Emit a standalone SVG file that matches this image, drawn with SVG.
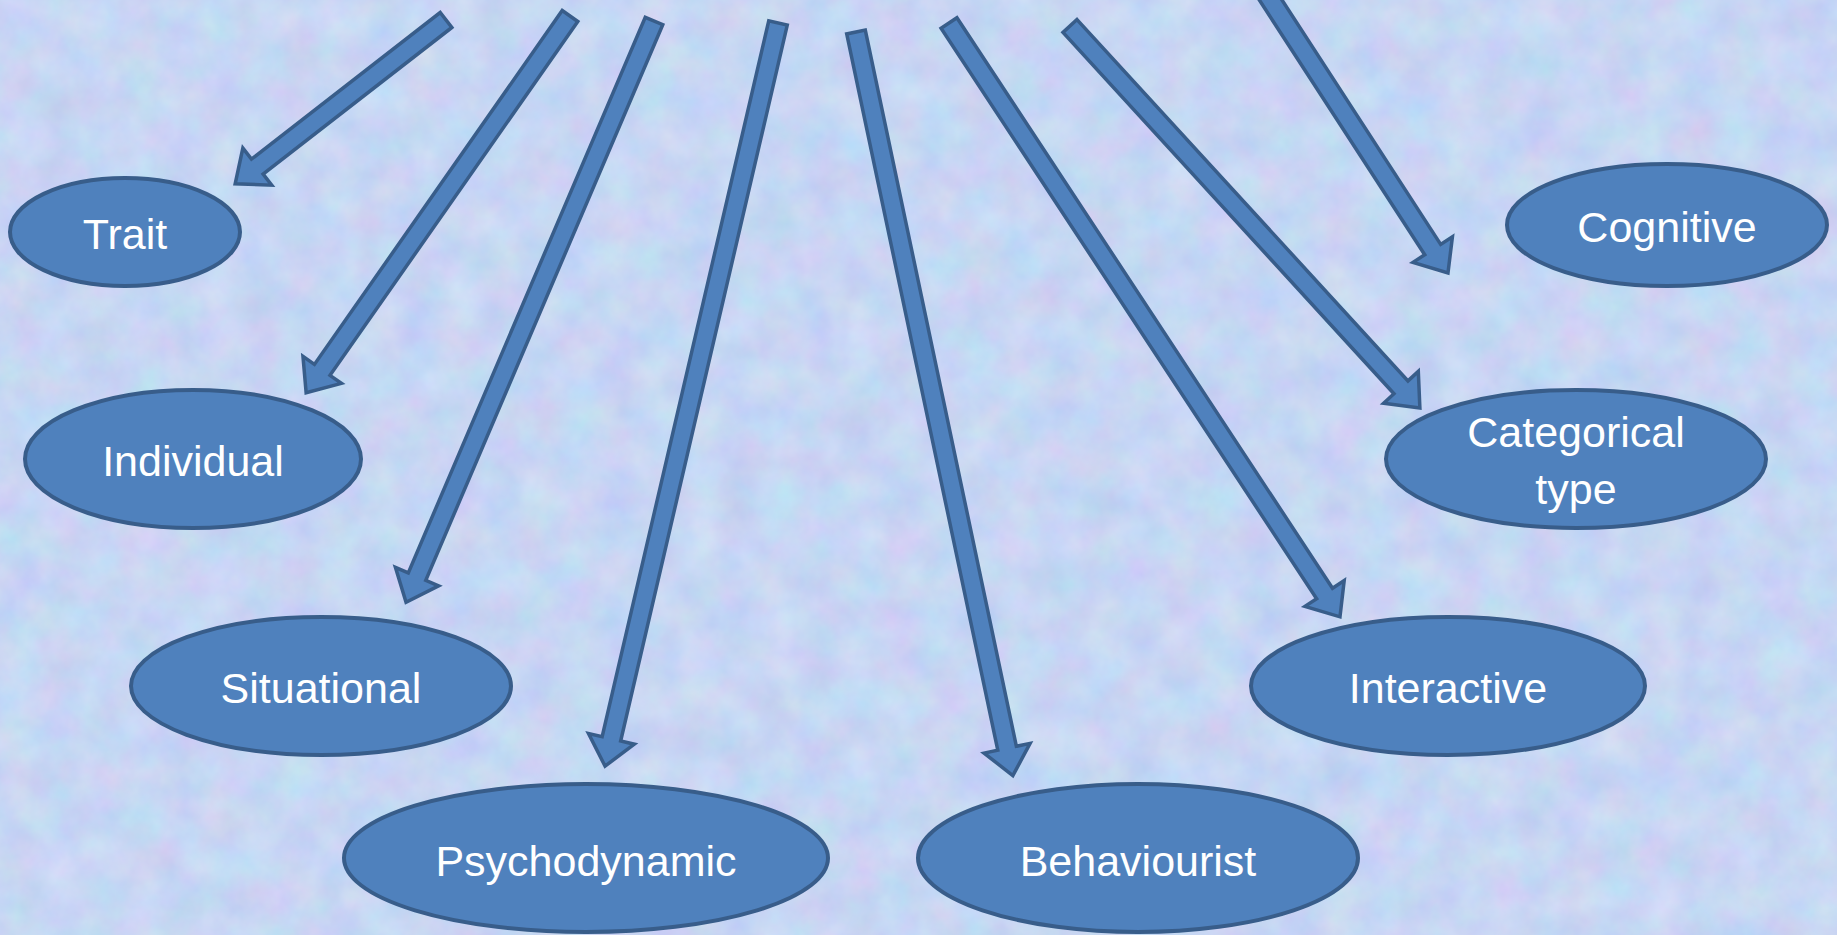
<svg xmlns="http://www.w3.org/2000/svg" width="1837" height="935" viewBox="0 0 1837 935">
  <defs>
    <filter id="tex" x="0" y="0" width="1837" height="935" filterUnits="userSpaceOnUse" color-interpolation-filters="sRGB">
      <feTurbulence type="fractalNoise" baseFrequency="0.025" numOctaves="4" seed="7"/>
      <feColorMatrix type="matrix" values="0.15 0 0 0 0.705  0 0.12 0 0 0.78  0 0 0.06 0 0.925  0 0 0 0 1"/>
    </filter>
  </defs>
  <style>
    .node ellipse { fill: #4F81BD; stroke: #385D8A; stroke-width: 4; }
    .node text { fill: #FFFFFF; font-family: "Liberation Sans", Arial, sans-serif; font-size: 43px; text-anchor: middle; }
    .arrow { fill: #4F81BD; stroke: #385D8A; stroke-width: 3.5; stroke-linejoin: miter; }
  </style>
  <rect x="0" y="0" width="1837" height="935" fill="#C6D6F3"/>
  <rect x="0" y="0" width="1837" height="935" filter="url(#tex)"/>

  <g id="connectors">
    <polygon class="arrow" transform="translate(446,20) rotate(142.15)" points="0,-9.5 239,-9.5 239,-23.5 267,0 239,23.5 239,9.5 0,9.5"/>
    <polygon class="arrow" transform="translate(570,16) rotate(125.0)" points="0,-9.5 432,-9.5 432,-23.5 460,0 432,23.5 432,9.5 0,9.5"/>
    <polygon class="arrow" transform="translate(654,21) rotate(113.1)" points="0,-9.5 604,-9.5 604,-23.5 632,0 604,23.5 604,9.5 0,9.5"/>
    <polygon class="arrow" transform="translate(778,23) rotate(103.1)" points="0,-9.5 735,-9.5 735,-23.5 763,0 735,23.5 735,9.5 0,9.5"/>
    <polygon class="arrow" transform="translate(856,32) rotate(78.09)" points="0,-9.5 732,-9.5 732,-23.5 760,0 732,23.5 732,9.5 0,9.5"/>
    <polygon class="arrow" transform="translate(949,23) rotate(56.64)" points="0,-9.5 683,-9.5 683,-23.5 711,0 683,23.5 683,9.5 0,9.5"/>
    <polygon class="arrow" transform="translate(1070,26) rotate(47.51)" points="0,-9.5 490,-9.5 490,-23.5 518,0 490,23.5 490,9.5 0,9.5"/>
    <polygon class="arrow" transform="translate(1251.9,-28.9) rotate(57.0)" points="0,-9.5 332,-9.5 332,-23.5 360,0 332,23.5 332,9.5 0,9.5"/>
  </g>

  <g id="node-trait" class="node">
    <ellipse cx="125" cy="232" rx="115" ry="54"/>
    <text x="125" y="249">Trait</text>
  </g>
  <g id="node-individual" class="node">
    <ellipse cx="193" cy="459" rx="168" ry="69"/>
    <text x="193" y="476">Individual</text>
  </g>
  <g id="node-situational" class="node">
    <ellipse cx="321" cy="686" rx="190" ry="69"/>
    <text x="321" y="703">Situational</text>
  </g>
  <g id="node-psychodynamic" class="node">
    <ellipse cx="586" cy="858" rx="242" ry="74"/>
    <text x="586" y="876">Psychodynamic</text>
  </g>
  <g id="node-behaviourist" class="node">
    <ellipse cx="1138" cy="858" rx="220" ry="74"/>
    <text x="1138" y="876">Behaviourist</text>
  </g>
  <g id="node-interactive" class="node">
    <ellipse cx="1448" cy="686" rx="197" ry="69"/>
    <text x="1448" y="703">Interactive</text>
  </g>
  <g id="node-categorical" class="node">
    <ellipse cx="1576" cy="459" rx="190" ry="69"/>
    <text x="1576" y="447">Categorical</text>
    <text x="1576" y="504">type</text>
  </g>
  <g id="node-cognitive" class="node">
    <ellipse cx="1667" cy="225" rx="160" ry="61"/>
    <text x="1667" y="242">Cognitive</text>
  </g>
</svg>
